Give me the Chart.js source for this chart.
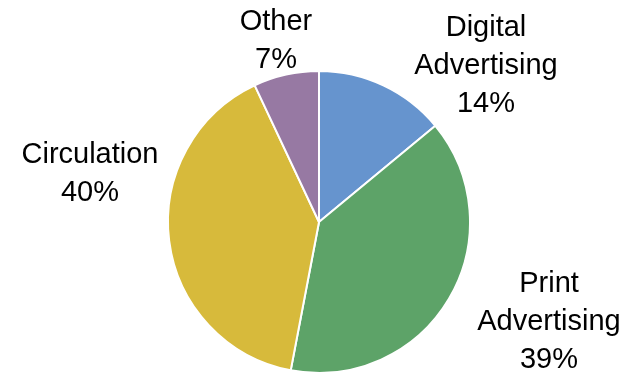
<!DOCTYPE html>
<html>
<head>
<meta charset="utf-8">
<script src="https://cdn.jsdelivr.net/npm/chart.js@4"></script>
<style>
  html, body { margin: 0; padding: 0; background: #ffffff; }
  #wrap { width: 634px; height: 374px; position: relative; }
</style>
</head>
<body>
<div id="wrap"><canvas id="c" width="634" height="374"></canvas></div>
<script>
// Revenue share by source
const categories = ['Digital Advertising', 'Print Advertising', 'Circulation', 'Other'];
const labelLines = [['Digital', 'Advertising'], ['Print', 'Advertising'], ['Circulation'], ['Other']];
const shares = [14, 39, 40, 7];
const sliceColors = ['#6694CE', '#5DA368', '#D7BA3B', '#9779A3'];
// Where each label block sits, relative to the pie centre (px)
const labelOffsets = [[167, -158], [230, 98], [-229, -50], [-43, -183]];

const lineHeight = 38;
const fontSize = 29;

const outsideLabels = {
  id: 'outsideLabels',
  afterDatasetsDraw(chart) {
    const ctx = chart.ctx;
    const meta = chart.getDatasetMeta(0);
    ctx.save();
    ctx.font = fontSize + 'px "Liberation Sans", Arial, sans-serif';
    ctx.fillStyle = '#000000';
    ctx.textAlign = 'center';
    ctx.textBaseline = 'alphabetic';
    const capHalf = fontSize * 0.716 / 2;
    const total = shares.reduce((a, b) => a + b, 0);
    meta.data.forEach((arc, i) => {
      const pct = Math.round(shares[i] / total * 100) + '%';
      const lines = labelLines[i].concat([pct]);
      const cx = arc.x + labelOffsets[i][0];
      const cy = arc.y + labelOffsets[i][1];
      const top = cy - (lines.length - 1) * lineHeight / 2;
      lines.forEach((t, k) => {
        ctx.fillText(t, cx, top + k * lineHeight + capHalf);
      });
    });
    ctx.restore();
  }
};

new Chart(document.getElementById('c'), {
  type: 'pie',
  data: {
    labels: categories,
    datasets: [{
      data: shares,
      backgroundColor: sliceColors,
      borderColor: '#ffffff',
      borderWidth: 2
    }]
  },
  options: {
    responsive: false,
    animation: false,
    layout: { padding: { left: 167, right: 163, top: 70, bottom: 0 } },
    plugins: {
      legend: { display: false },
      tooltip: { enabled: false }
    }
  },
  plugins: [outsideLabels]
});
</script>
</body>
</html>
